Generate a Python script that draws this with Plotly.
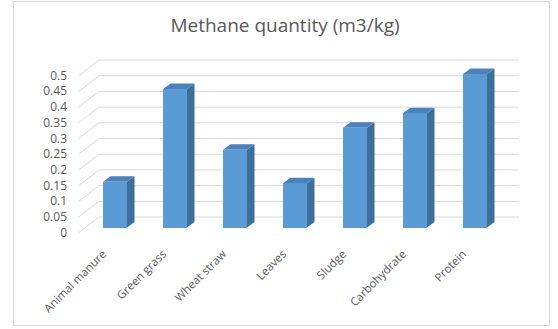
import plotly.graph_objects as go

categories = ["Animal manure", "Green grass", "Wheat straw", "Leaves", "Sludge", "Carbohydrate", "Protein"]
values = [0.146, 0.441, 0.248, 0.141, 0.318, 0.364, 0.489]
y_ticks = [0, 0.05, 0.1, 0.15, 0.2, 0.25, 0.3, 0.35, 0.4, 0.45, 0.5]
y_tick_text = ["0", "0.05", "0.1", "0.15", "0.2", "0.25", "0.3", "0.35", "0.4", "0.45", "0.5"]
title = "Methane quantity (m3/kg)"

W, H = 558, 329
L, R, T, B = 79, 39, 40, 93
PX_PER_CAT = 60.0
PX_PER_UNIT = 314.0
ZERO_PX = 232.5  # pixel row of value 0 on the front plane
plot_w = W - L - R
plot_h = H - T - B
x_range = [-0.5, -0.5 + plot_w / PX_PER_CAT]
y0 = -((H - B) - ZERO_PX) / PX_PER_UNIT
y_range = [y0, y0 + plot_h / PX_PER_UNIT]

# depth offsets (full wall depth) in data units
DX = 20 / PX_PER_CAT
DY = 15.5 / PX_PER_UNIT
# bar placement in depth
BAR_OFF_X = 6 / PX_PER_CAT
BAR_BASE = 5.0 / PX_PER_UNIT
BAR_W = 24 / PX_PER_CAT
BDX = 7.5 / PX_PER_CAT
BDY = 5.5 / PX_PER_UNIT

grid_color = "#D9D9D9"
front_color = "#5B9BD5"
side_color = "#3E6E9B"
top_color = "#4A82BC"
text_color = "#595959"
font_family = "Open Sans"

fig = go.Figure()

shapes = []
for v in y_ticks:
    shapes.append(dict(type="line", xref="x", yref="y", layer="below",
                       x0=x_range[0], y0=v, x1=x_range[0] + DX, y1=v + DY,
                       line=dict(color=grid_color, width=1)))
    shapes.append(dict(type="line", xref="x", yref="y", layer="below",
                       x0=x_range[0] + DX, y0=v + DY, x1=x_range[1], y1=v + DY,
                       line=dict(color=grid_color, width=1)))

def px_to_paper_x(px):
    return (px - L) / plot_w

def px_to_paper_y(py):
    return (H - B - py) / plot_h

shapes.append(dict(type="rect", xref="paper", yref="paper", layer="below",
                   x0=px_to_paper_x(13.5), x1=px_to_paper_x(549.5),
                   y0=px_to_paper_y(325.5), y1=px_to_paper_y(1.5),
                   line=dict(color="#D9D9D9", width=1), fillcolor="rgba(0,0,0,0)"))

xs = [i + BAR_OFF_X for i in range(len(categories))]

fig.add_trace(go.Bar(x=xs, y=values, base=BAR_BASE, width=BAR_W,
                     marker=dict(color=front_color, line=dict(width=0)),
                     hoverinfo="skip", showlegend=False))

sx, sy = [], []
tx, ty = [], []
for xc, v in zip(xs, values):
    xr = xc + BAR_W / 2
    xl = xc - BAR_W / 2
    top = BAR_BASE + v
    sx += [xr, xr + BDX, xr + BDX, xr, xr, None]
    sy += [BAR_BASE, BAR_BASE + BDY, top + BDY, top, BAR_BASE, None]
    tx += [xl, xr, xr + BDX, xl + BDX, xl, None]
    ty += [top, top, top + BDY, top + BDY, top, None]

fig.add_trace(go.Scatter(x=sx, y=sy, mode="lines", fill="toself", fillcolor=side_color,
                         line=dict(width=0, color=side_color), hoverinfo="skip", showlegend=False))
fig.add_trace(go.Scatter(x=tx, y=ty, mode="lines", fill="toself", fillcolor=top_color,
                         line=dict(width=0, color=top_color), hoverinfo="skip", showlegend=False))

fig.update_layout(
    width=W, height=H,
    margin=dict(l=L, r=R, t=T, b=B, autoexpand=False),
    paper_bgcolor="white", plot_bgcolor="white",
    shapes=shapes,
    title=dict(text=title, x=px_to_paper_x(285), xref="paper", xanchor="center",
               y=1 - 25 / H, yref="container", yanchor="middle",
               font=dict(family=font_family, size=19, color=text_color)),
    xaxis=dict(range=x_range, tickmode="array",
               tickvals=[i - 0.1 for i in range(len(categories))],
               ticktext=categories, tickangle=-45, showgrid=False, zeroline=False,
               showline=False, ticks="", ticklabelstandoff=8,
               tickfont=dict(family=font_family, size=11.5, color=text_color)),
    yaxis=dict(range=y_range, tickmode="array", tickvals=y_ticks, ticktext=y_tick_text,
               showgrid=False, zeroline=False, showline=False, ticks="",
               ticklabelstandoff=11,
               tickfont=dict(family=font_family, size=12, color=text_color)),
    bargap=0,
)

fig.write_html("out.html")
